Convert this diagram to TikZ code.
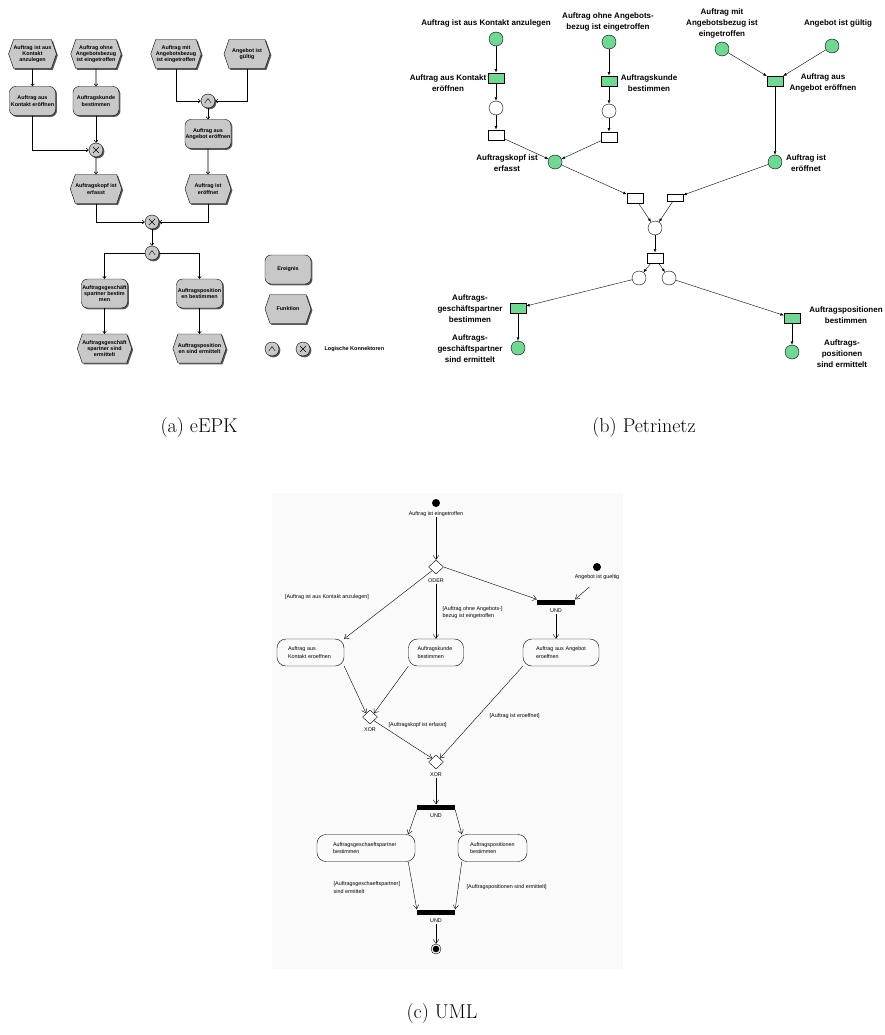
\documentclass[tikz,border=0pt]{standalone}
\usepackage{fontspec}
\newfontfamily\arial{Liberation Sans}
\usetikzlibrary{shapes.geometric,shapes.symbols,shadows,arrows.meta,calc}
\definecolor{pngreen}{RGB}{110,218,145}
\definecolor{epkgray}{RGB}{200,200,200}
\tikzset{
  epkschatten/.style={drop shadow={shadow xshift=1.4pt, shadow yshift=-1.4pt, fill=black!65, opacity=1}},
  ereignis/.style={draw, fill=epkgray, rounded corners=6pt, minimum width=46pt, minimum height=29pt, inner sep=0pt, align=center, font=\arial\bfseries\fontsize{5.4}{6.3}\selectfont, epkschatten},
  funktion/.style={draw, fill=epkgray, signal, signal to=east and west, signal pointer angle=142, minimum width=46pt, minimum height=29pt, inner sep=0pt, align=center, font=\arial\bfseries\fontsize{5.4}{6.3}\selectfont, epkschatten},
  konn/.style={draw, fill=epkgray, circle, minimum size=14pt, inner sep=0pt, epkschatten},
  und/.style={konn, path picture={\draw (path picture bounding box.center) ++(-3.2pt,-2pt) -- ++(3.2pt,4.5pt) -- ++(3.2pt,-4.5pt);}},
  xor/.style={konn, path picture={\draw (path picture bounding box.center) ++(-3pt,-3pt) -- ++(6pt,6pt) ++(-6pt,0pt) -- ++(6pt,-6pt);}},
  epkpfeil/.style={line width=0.6pt, -{Straight Barb[length=2pt,width=3.5pt]}},
  stelle/.style={circle, draw, fill=pngreen, minimum size=14pt, inner sep=0pt},
  leerstelle/.style={circle, draw, fill=white, minimum size=14pt, inner sep=0pt},
  trans/.style={rectangle, draw, fill=pngreen, minimum width=16pt, minimum height=10.5pt, inner sep=0pt},
  leertrans/.style={trans, fill=white},
  pntext/.style={font=\arial\bfseries\fontsize{8}{11}\selectfont, align=center},
  pnpfeil/.style={-{Latex[length=3.5pt,width=2.8pt]}},
  aktion/.style={draw, rectangle, rounded corners=9pt, minimum height=27pt, align=left, font=\arial\fontsize{5.4}{7.5}\selectfont},
  raute/.style={draw, diamond, fill=white, minimum width=15pt, minimum height=14pt, inner sep=0pt},
  balken/.style={fill=black, rectangle, minimum width=38pt, minimum height=5pt, inner sep=0pt},
  umltext/.style={font=\arial\fontsize{5.4}{7.5}\selectfont, align=left, inner sep=0.5pt},
  umlpfeil/.style={-{Straight Barb[length=4pt,width=5.5pt]}},
  titel/.style={font=\fontsize{20}{24}\selectfont}
}
\begin{document}
\begin{tikzpicture}[x=1pt,y=-1pt]
\useasboundingbox (0,0) rectangle (884,1035);

% (a) eEPK
\node[funktion] (f1) at (32.5,54) {Auftrag ist aus\\Kontakt\\anzulegen};
\node[funktion] (f2) at (96,54) {Auftrag ohne\\Angebotsbezug\\ist eingetroffen};
\node[funktion] (f3) at (176,54) {Auftrag mit\\Angebotsbezug\\ist eingetroffen};
\node[funktion] (f4) at (247,54) {Angebot ist\\gültig};
\node[ereignis] (e1) at (32.5,101) {Auftrag aus\\Kontakt eröffnen};
\node[ereignis] (e2) at (96,101) {Auftragskunde\\bestimmen};
\node[xor] (x1) at (96,150) {};
\node[und] (u1) at (208,101) {};
\node[ereignis] (e3) at (208,134) {Auftrag aus\\Angebot eröffnen};
\node[funktion] (f5) at (96,189) {Auftragskopf ist\\erfasst};
\node[funktion] (f6) at (208,189) {Auftrag ist\\eröffnet};
\node[xor] (x2) at (152,222) {};
\node[und] (u2) at (152,253) {};
\node[ereignis] (e4) at (104.5,293.5) {Auftragsgeschäft\\spartner bestim\\men};
\node[ereignis] (e5) at (199.5,293.5) {Auftragsposition\\en bestimmen};
\node[funktion] (f7) at (104.5,348.5) {Auftragsgeschäft\\spartner sind\\ermittelt};
\node[funktion] (f8) at (199.5,348.5) {Auftragsposition\\en sind ermittelt};
\draw[epkpfeil] (f1) -- (e1);
\draw[epkpfeil] (f2) -- (e2);
\draw[epkpfeil] (e1) |- (x1);
\draw[epkpfeil] (e2) -- (x1);
\draw[epkpfeil] (x1) -- (f5);
\draw[epkpfeil] (f3) |- (u1);
\draw[epkpfeil] (f4) |- (u1);
\draw[epkpfeil] (u1) -- (e3);
\draw[epkpfeil] (e3) -- (f6);
\draw[epkpfeil] (f5) |- (x2);
\draw[epkpfeil] (f6) |- (x2);
\draw[epkpfeil] (x2) -- (u2);
\draw[epkpfeil] (u2) -| (e4);
\draw[epkpfeil] (u2) -| (e5);
\draw[epkpfeil] (e4) -- (f7);
\draw[epkpfeil] (e5) -- (f8);
% Legende
\node[ereignis] (le) at (288,269.5) {Ereignis};
\node[funktion] (lf) at (288,309) {Funktion};
\node[und] (lu) at (272,349) {};
\node[xor] (lx) at (303,349) {};
\node[font=\arial\bfseries\fontsize{5.5}{6.3}\selectfont, anchor=west] (lk) at (321,349) {Logische Konnektoren};
\node[titel] (ta) at (199,428) {(a) eEPK};

% (b) Petrinetz
\node[stelle] (p1) at (496,39) {};
\node[trans] (t1) at (496,78) {};
\node[leerstelle] (w1) at (496,108) {};
\node[leertrans] (v1) at (496,135) {};
\node[stelle] (p2) at (609,42) {};
\node[trans] (t2) at (609,81) {};
\node[leerstelle] (w2) at (609,111) {};
\node[leertrans] (v2) at (609,137) {};
\node[stelle] (p3) at (555,162) {};
\node[stelle] (p4) at (722,49) {};
\node[stelle] (p5) at (832,46) {};
\node[trans] (t3) at (775,81) {};
\node[stelle] (p6) at (775,162) {};
\node[leertrans] (v3) at (635,198) {};
\node[leertrans, minimum height=7pt] (v4) at (675,198) {};
\node[leerstelle] (w3) at (655,228) {};
\node[leertrans] (v5) at (655,258) {};
\node[leerstelle] (w4) at (639,278) {};
\node[leerstelle] (w5) at (669,278) {};
\node[trans] (t4) at (518,308) {};
\node[stelle] (p7) at (518,348) {};
\node[trans] (t5) at (792,318) {};
\node[stelle] (p8) at (792,352) {};
\draw[pnpfeil] (p1) -- (t1);
\draw[pnpfeil] (t1) -- (w1);
\draw[pnpfeil] (w1) -- (v1);
\draw[pnpfeil] (p2) -- (t2);
\draw[pnpfeil] (t2) -- (w2);
\draw[pnpfeil] (w2) -- (v2);
\draw[pnpfeil] (v1) -- (p3);
\draw[pnpfeil] (v2) -- (p3);
\draw[pnpfeil] (p4) -- (t3);
\draw[pnpfeil] (p5) -- (t3);
\draw[pnpfeil] (t3) -- (p6);
\draw[pnpfeil] (p3) -- (v3);
\draw[pnpfeil] (p6) -- (v4);
\draw[pnpfeil] (v3) -- (w3);
\draw[pnpfeil] (v4) -- (w3);
\draw[pnpfeil] (w3) -- (v5);
\draw[pnpfeil] (v5) -- (w4);
\draw[pnpfeil] (v5) -- (w5);
\draw[pnpfeil] (w4) -- (t4);
\draw[pnpfeil] (t4) -- (p7);
\draw[pnpfeil] (w5) -- (t5);
\draw[pnpfeil] (t5) -- (p8);
\node[pntext] (n1) at (486,23) {Auftrag ist aus Kontakt anzulegen};
\node[pntext] (n2) at (608,22) {Auftrag ohne Angebots-\\bezug ist eingetroffen};
\node[pntext] (n3) at (722,23) {Auftrag mit\\Angebotsbezug ist\\eingetroffen};
\node[pntext] (n4) at (838,23) {Angebot ist gültig};
\node[pntext] (n5) at (448,83) {Auftrag aus Kontakt\\eröffnen};
\node[pntext] (n6) at (649,83) {Auftragskunde\\bestimmen};
\node[pntext] (n7) at (823,83) {Auftrag aus\\Angebot eröffnen};
\node[pntext] (n8) at (507,163) {Auftragskopf ist\\erfasst};
\node[pntext] (n9) at (806,163) {Auftrag ist\\eröffnet};
\node[pntext] (n10) at (470,309) {Auftrags-\\geschäftspartner\\bestimmen};
\node[pntext] (n11) at (470,349) {Auftrags-\\geschäftspartner\\sind ermittelt};
\node[pntext] (n12) at (846,315) {Auftragspositionen\\bestimmen};
\node[pntext] (n13) at (842,354) {Auftrags-\\positionen\\sind ermittelt};
\node[titel] (tb) at (644,428) {(b) Petrinetz};

% (c) UML
\fill[black!2] (272,493) rectangle (623,969);
\node[circle, fill=black, minimum size=8pt, inner sep=0pt] (s1) at (436,503) {};
\node[umltext] (s1t) at (436,514) {Auftrag ist eingetroffen};
\node[raute] (d1) at (436,567) {};
\node[umltext] (d1t) at (436,581) {ODER};
\node[circle, fill=black, minimum size=8pt, inner sep=0pt] (s2) at (597,567) {};
\node[umltext] (s2t) at (597,577) {Angebot ist gueltig};
\node[balken] (b1) at (556,602) {};
\node[umltext] (b1t) at (556,611) {UND};
\node[aktion, text width=45pt, inner xsep=11pt] (a1) at (310.5,652.5) {Auftrag aus\\Kontakt eroeffnen};
\node[aktion, text width=37pt, inner xsep=9pt] (a2) at (436,652.5) {Auftragskunde\\bestimmen};
\node[aktion, text width=50pt, inner xsep=13pt] (a3) at (561,652.5) {Auftrag aus Angebot\\eroeffnen};
\node[raute] (d2) at (370,717) {};
\node[umltext] (d2t) at (370,730) {XOR};
\node[raute] (d3) at (436,762) {};
\node[umltext] (d3t) at (436,775) {XOR};
\node[balken] (b2) at (436,807) {};
\node[umltext] (b2t) at (436,816) {UND};
\node[aktion, text width=66pt, inner xsep=16pt] (a4) at (366,848) {Auftragsgeschaeftspartner\\bestimmen};
\node[aktion, text width=45pt, inner xsep=12pt] (a5) at (492.5,848) {Auftragspositionen\\bestimmen};
\node[balken] (b3) at (436,912) {};
\node[umltext] (b3t) at (436,921) {UND};
\node[circle, draw, minimum size=10pt, inner sep=0pt] (ende) at (436,949) {};
\fill (ende) circle[radius=3.3pt];
\draw[umlpfeil] (s1t) -- (d1);
\draw[umlpfeil] (d1.east) -- (b1.north west);
\draw[umlpfeil] ($(s2t.south)!0.35!(b1.north east)$) -- (b1.north east);
\draw[umlpfeil] (d1.south west) -- (a1.north east);
\draw[umlpfeil] (d1t) -- (a2);
\draw[umlpfeil] (b1t) -- (b1t |- a3.north);
\draw[umlpfeil] (a1.south east) -- (d2.north west);
\draw[umlpfeil] (a2.south west) -- (d2.north east);
\draw[umlpfeil] (d2.south east) -- (d3.north west);
\draw[umlpfeil] (a3.south west) -- (d3.north east);
\draw[umlpfeil] (d3t) -- (b2);
\draw[umlpfeil] (b2.south west) -- ([xshift=-7pt]a4.north east);
\draw[umlpfeil] (b2.south east) -- ([xshift=4pt]a5.north west);
\draw[umlpfeil] ([xshift=-7pt]a4.south east) -- (b3.north west);
\draw[umlpfeil] ([xshift=4pt]a5.south west) -- (b3.north east);
\draw[umlpfeil] (b3t) -- (ende);
\node[umltext] (g1) at (327,597) {[Auftrag ist aus Kontakt anzulegen]};
\node[umltext, anchor=west] (g2) at (442,612.5) {[Auftrag ohne Angebots-]\\ bezug ist eingetroffen};
\node[umltext, anchor=west] (g3) at (388,725) {[Auftragskopf ist erfasst]};
\node[umltext, anchor=west] (g4) at (489,716) {[Auftrag ist eroeffnet]};
\node[umltext, anchor=west] (g5) at (333,887.5) {[Auftragsgeschaeftspartner]\\ sind ermittelt};
\node[umltext, anchor=west] (g6) at (466,887) {[Auftragspositionen sind ermittelt]};
\node[titel] (tc) at (442,1013) {(c) UML};
\end{tikzpicture}
\end{document}
